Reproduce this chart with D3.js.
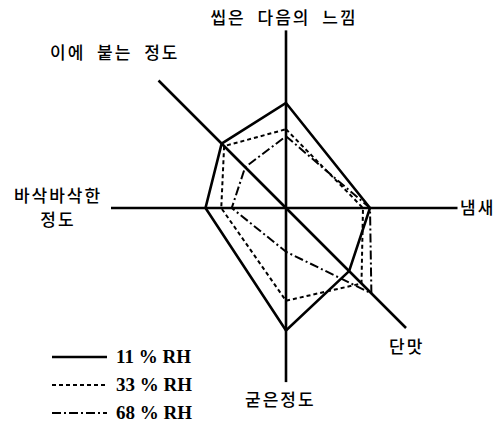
<!DOCTYPE html>
<html>
<head>
<meta charset="utf-8">
<script src="https://cdn.jsdelivr.net/npm/d3@7"></script>
<style>
  body { margin: 0; background: #fff; }
  svg { display: block; }
  .kr { font-family: "Noto Sans CJK KR", sans-serif; font-size: 17px; font-weight: 500; letter-spacing: 2px; word-spacing: 6px; fill: #000; }
  .lg { font-family: "Liberation Serif", serif; font-size: 19px; font-weight: bold; fill: #000; }
</style>
</head>
<body>
<div id="chart"></div>
<script>
// axes, clockwise from top (angle in degrees, svg coords)
const axes = ["씹은 다음의 느낌", "냄새", "단맛", "굳은정도", "바삭바삭한 정도", "이에 붙는 정도"];
const angles = [-90, 0, 45, 90, 180, 225];
const series = ["11 % RH", "33 % RH", "68 % RH"];
const rh11 = [6.0, 4.8, 5.1, 7.0, 4.6, 5.2];
const rh33 = [4.5, 4.4, 6.1, 5.3, 3.7, 5.0];
const rh68 = [4.1, 4.8, 6.9, 2.5, 3.1, 3.3];
const values = [rh11, rh33, rh68];
const dashes = [null, "4,3", "9,3,2,3"];

const W = 500, H = 424, cx = 286, cy = 208;
const svg = d3.select("#chart").append("svg").attr("width", W).attr("height", H);
const r = d3.scaleLinear().domain([0, 10]).range([0, 175]);
const pt = (a, v) => [cx + r(v) * Math.cos(a * Math.PI / 180), cy + r(v) * Math.sin(a * Math.PI / 180)];

// axis lines (vertical, horizontal, diagonal)
const gAx = svg.append("g").attr("stroke", "#000").attr("stroke-width", 2.6);
const axLen = [10.15, 9.8, 9.7, 9.95, 10, 10.3];
angles.forEach((a, i) => {
  const p = pt(a, axLen[i]);
  gAx.append("line").attr("x1", cx).attr("y1", cy).attr("x2", p[0]).attr("y2", p[1]);
});

// polygons
const line = d3.line().curve(d3.curveLinearClosed);
values.forEach((vals, s) => {
  svg.append("path")
    .attr("d", line(vals.map((v, i) => pt(angles[i], v))))
    .attr("fill", "none").attr("stroke", "#000")
    .attr("stroke-width", s === 0 ? 2.6 : 2)
    .attr("stroke-dasharray", dashes[s]);
});

// axis labels
const lab = svg.append("g").attr("class", "kr");
lab.append("text").attr("x", 284).attr("y", 24).attr("text-anchor", "middle").text(axes[0]);
lab.append("text").attr("x", 460).attr("y", 214).text(axes[1]);
lab.append("text").attr("x", 389).attr("y", 353).text(axes[2]);
lab.append("text").attr("x", 245).attr("y", 406).text(axes[3]);
const left = axes[4].split(" ");
lab.append("text").attr("x", 58).attr("y", 202).attr("text-anchor", "middle").text(left[0]);
lab.append("text").attr("x", 58).attr("y", 226).attr("text-anchor", "middle").text(left[1]);
lab.append("text").attr("x", 50).attr("y", 59).text(axes[5]);

// legend
const lgY = d3.scalePoint().domain(series).range([357, 413]);
const lg = svg.append("g");
series.forEach((s, i) => {
  lg.append("line").attr("x1", 52).attr("x2", 107).attr("y1", lgY(s)).attr("y2", lgY(s))
    .attr("stroke", "#000").attr("stroke-width", i === 0 ? 2.6 : 2).attr("stroke-dasharray", dashes[i]);
  lg.append("text").attr("class", "lg").attr("x", 116).attr("y", lgY(s) + 6).text(s);
});
</script>
</body>
</html>
